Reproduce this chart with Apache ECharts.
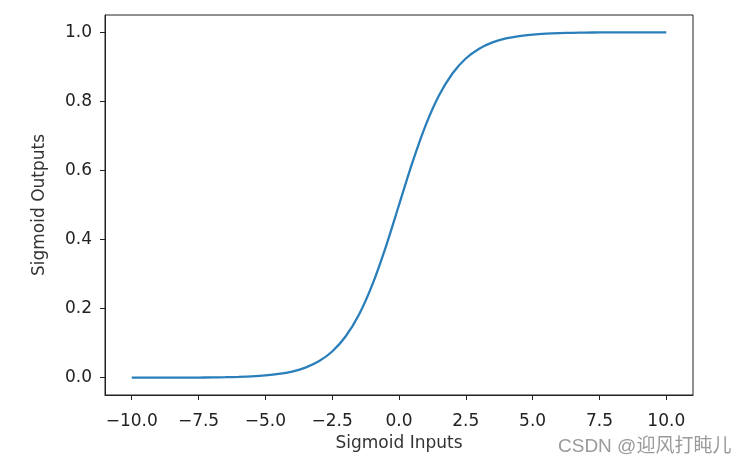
<!DOCTYPE html>
<html>
<head>
<meta charset="utf-8">
<title>Sigmoid</title>
<script src="https://cdn.jsdelivr.net/npm/echarts@6/dist/echarts.min.js"></script>
<style>
  html, body { margin: 0; padding: 0; background: #fff; }
  #chart { width: 745px; height: 465px; }
</style>
</head>
<body>
<div id="chart"></div>
<script>
// values
var xs = [-10, -9.5, -9, -8.5, -8, -7.5, -7, -6.5, -6, -5.5, -5, -4.5, -4, -3.5, -3, -2.5, -2, -1.5, -1, -0.5,
  0, 0.5, 1, 1.5, 2, 2.5, 3, 3.5, 4, 4.5, 5, 5.5, 6, 6.5, 7, 7.5, 8, 8.5, 9, 9.5, 10];
var ys = [0.00005, 0.00007, 0.00012, 0.0002, 0.00034, 0.00055, 0.0009, 0.0015, 0.0025, 0.0041, 0.0067, 0.011,
  0.018, 0.0293, 0.0474, 0.0759, 0.1192, 0.1824, 0.2689, 0.3775,
  0.5, 0.6225, 0.7311, 0.8176, 0.8808, 0.9241, 0.9526, 0.9707, 0.982, 0.989, 0.9933, 0.9959, 0.9975,
  0.9985, 0.9991, 0.99945, 0.99966, 0.9998, 0.99988, 0.99993, 0.99995];
var xTicks = [-10, -7.5, -5, -2.5, 0, 2.5, 5, 7.5, 10];
var yTicks = [0, 0.2, 0.4, 0.6, 0.8, 1.0];

var points = [];
for (var i = 0; i < xs.length; i++) {
  points.push([xs[i], ys[i]]);
}

var font = "'DejaVu Sans', sans-serif";
function fmt(v) {
  var s = Math.abs(v).toFixed(1);
  return v < 0 ? "\u2212" + s : s;
}

var myChart = echarts.init(document.getElementById("chart"));
myChart.setOption({
  animation: false,
  backgroundColor: "#fff",
  grid: {
    left: 105, right: 52, top: 15, bottom: 70,
    show: true, borderColor: "#222", borderWidth: 1, backgroundColor: "#fff"
  },
  xAxis: {
    type: "value", min: -11, max: 11,
    name: "Sigmoid Inputs", nameLocation: "middle", nameGap: 40,
    nameTextStyle: { fontFamily: font, fontSize: 17, color: "#333" },
    axisLine: { show: true, onZero: false, lineStyle: { color: "#222" } },
    axisTick: { show: true, length: 5, customValues: xTicks, lineStyle: { color: "#222" } },
    axisLabel: { customValues: xTicks, margin: 18, fontFamily: font, fontSize: 17, color: "#222", formatter: fmt },
    splitLine: { show: false }
  },
  yAxis: {
    type: "value", min: -0.05, max: 1.05,
    name: "Sigmoid Outputs", nameLocation: "middle", nameGap: 57,
    nameTextStyle: { fontFamily: font, fontSize: 17, color: "#333" },
    axisLine: { show: true, onZero: false, lineStyle: { color: "#222" } },
    axisTick: { show: true, length: 5, customValues: yTicks, lineStyle: { color: "#222" } },
    axisLabel: { customValues: yTicks, margin: 13, fontFamily: font, fontSize: 17, color: "#222", formatter: fmt },
    splitLine: { show: false }
  },
  graphic: [{
    type: "text", left: 558, top: 437,
    style: { text: "CSDN @迎风打盹儿", fontSize: 19, fill: "#9a9a9a",
      fontFamily: "'Liberation Sans', 'Noto Sans CJK SC', sans-serif" }
  }],
  series: [{
    type: "line", data: points, smooth: 0.3, showSymbol: false,
    lineStyle: { color: "#2a7fbb", width: 2.3 }
  }]
});
</script>
</body>
</html>
